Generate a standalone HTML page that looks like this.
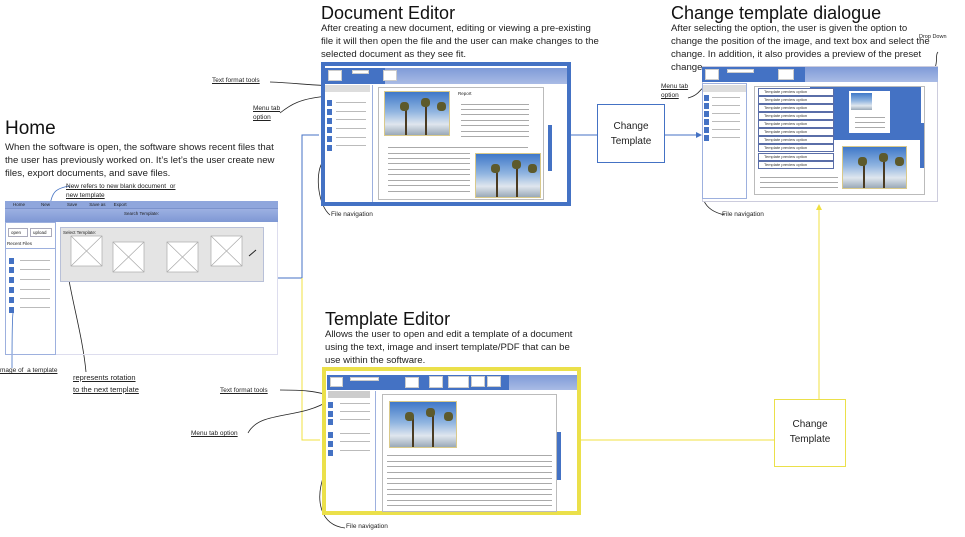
<!DOCTYPE html>
<html><head><meta charset="utf-8"><style>
*{margin:0;padding:0;box-sizing:border-box}
body{width:965px;height:537px;background:#fff;position:relative;overflow:hidden;font-family:"Liberation Sans",sans-serif;color:#222}
.a{position:absolute}
.t{font-size:18px;line-height:20px;color:#111}
.p{font-size:9.6px;line-height:13px;color:#222}
.u{font-size:6.5px;text-decoration:underline;color:#222;line-height:9px}
.photo{position:absolute;background:linear-gradient(#3f78c8,#8fb4e0 45%,#dfe6ee 75%,#9aa9b8);border:1px solid #d9c98a;overflow:hidden}
.photo i{position:absolute;background:#4a3b22;width:2px}
.photo b{position:absolute;background:#5d5a2c;border-radius:40%;width:9px;height:9px}
.ln{position:absolute;height:1px;background:#aaa}
.sq{position:absolute;width:5px;height:6px;background:#4472c4}
.fl{position:absolute;height:1px;background:#bbb;width:30px}
.tb{position:absolute;background:linear-gradient(#7f9bd8,#a9bbe5)}
.wb{position:absolute;background:#fff;border:1px solid #ccc}
.opt{position:absolute;height:8px;border:1px solid #5a6ea8;background:#fff;font-size:4px;line-height:6px;padding-left:5px;color:#333}
</style></head><body>

<svg class="a" style="left:0;top:0" width="965" height="537">
<defs><marker id="ab" markerWidth="6" markerHeight="6" refX="5" refY="3" orient="auto"><path d="M0,0L6,3L0,6z" fill="#4472c4"/></marker>
<marker id="ay" markerWidth="6" markerHeight="6" refX="5" refY="3" orient="auto"><path d="M0,0L6,3L0,6z" fill="#f0e040"/></marker></defs>
<path d="M278,278H302V135H319" fill="none" stroke="#4472c4" stroke-width="1"/>
<path d="M570,135H597" fill="none" stroke="#4472c4" stroke-width="1"/>
<path d="M665,135H701" fill="none" stroke="#4472c4" stroke-width="1" marker-end="url(#ab)"/>
<path d="M302,278V440H320" fill="none" stroke="#f0e040" stroke-width="1"/>
<path d="M580,440H774" fill="none" stroke="#f0e040" stroke-width="1"/>
<path d="M819,399V205" fill="none" stroke="#f0e040" stroke-width="1" marker-end="url(#ay)"/>
<path d="M270,82 C300,83 310,86 345,86" fill="none" stroke="#222" stroke-width="0.8"/>
<path d="M280,113 C290,105 300,98 330,96" fill="none" stroke="#222" stroke-width="0.8"/>
<path d="M330,215 C318,205 315,175 322,163" fill="none" stroke="#222" stroke-width="0.8"/>
<path d="M70,186 C55,188 52,193 50,205" fill="none" stroke="#4472c4" stroke-width="0.8"/>
<path d="M12,368 C12,340 12,320 13,313" fill="none" stroke="#4472c4" stroke-width="0.8"/>
<path d="M86,372 C82,330 68,290 64,245" fill="none" stroke="#222" stroke-width="0.8"/>
<path d="M280,390 C310,390 315,392 330,395" fill="none" stroke="#222" stroke-width="0.8"/>
<path d="M248,433 C260,410 300,420 330,400" fill="none" stroke="#222" stroke-width="0.8"/>
<path d="M345,528 C320,525 315,500 324,475" fill="none" stroke="#222" stroke-width="0.8"/>
<path d="M688,98 C700,95 700,88 705,87" fill="none" stroke="#222" stroke-width="0.8"/>
<path d="M725,215 C700,210 700,190 705,188" fill="none" stroke="#222" stroke-width="0.8"/>
<path d="M770,68 C800,68 900,72 935,68 C938,60 935,55 938,52" fill="none" stroke="#222" stroke-width="0.8"/>
<path d="M250,258 L256,253" stroke="#222" stroke-width="1"/>
</svg>

<div class="a t" style="left:5px;top:119px;font-size:19px">Home</div>
<div class="a p" style="left:5px;top:141px;width:270px">When the software is open, the software shows recent files that the user has previously worked on. It’s let’s the user create new files, export documents, and save files.</div>
<div class="a u" style="left:66px;top:182px">New refers to new blank document&nbsp; or<br>new template</div>
<div class="a" style="left:5px;top:201px;width:273px;height:154px;border:1px solid #dde"></div>
<div class="a" style="left:5px;top:201px;width:273px;height:8px;background:#8fa6dc;font-size:4.5px;line-height:8px;border-bottom:1px solid #7b92cc"><span style="margin-left:8px">Home</span><span style="margin-left:16px">New</span><span style="margin-left:17px">Save</span><span style="margin-left:12px">Save as</span><span style="margin-left:8px">Export</span></div>
<div class="a" style="left:5px;top:209px;width:273px;height:13px;background:linear-gradient(#9cb0e2,#7f98d4);font-size:4.5px;line-height:10px;text-align:center">Search Template:</div>
<div class="a" style="left:5px;top:222px;width:51px;height:133px;border:1px solid #9db0de"></div>
<div class="a" style="left:8px;top:228px;width:20px;height:9px;border:1px solid #aab;font-size:4.5px;line-height:7px;padding-left:2px">open</div>
<div class="a" style="left:30px;top:228px;width:22px;height:9px;border:1px solid #aab;font-size:4.5px;line-height:7px;padding-left:2px">upload</div>
<div class="a" style="left:7px;top:241px;font-size:4.5px">Recent Files</div>
<div class="a" style="left:5px;top:248px;width:51px;height:1px;background:#9db0de"></div>
<div class="sq" style="left:9px;top:258px"></div><div class="sq" style="left:9px;top:267px"></div><div class="sq" style="left:9px;top:277px"></div><div class="sq" style="left:9px;top:287px"></div><div class="sq" style="left:9px;top:297px"></div><div class="sq" style="left:9px;top:307px"></div>
<div class="fl" style="left:20px;top:260px"></div><div class="fl" style="left:20px;top:269px"></div><div class="fl" style="left:20px;top:279px"></div><div class="fl" style="left:20px;top:289px"></div><div class="fl" style="left:20px;top:298px"></div><div class="fl" style="left:20px;top:307px"></div>
<div class="a" style="left:60px;top:227px;width:204px;height:55px;background:#e4e4e4;border:1px solid #b8c0d8"></div>
<div class="a" style="left:63px;top:230px;font-size:4.5px">Select Template:</div>
<svg class="a" style="left:60px;top:227px" width="204" height="55">
<g fill="#fff" stroke="#aaa" stroke-width="0.7">
<rect x="11" y="9" width="31" height="30"/><path d="M11,9L42,39M42,9L11,39"/>
<rect x="53" y="15" width="31" height="30"/><path d="M53,15L84,45M84,15L53,45"/>
<rect x="107" y="15" width="31" height="30"/><path d="M107,15L138,45M138,15L107,45"/>
<rect x="151" y="9" width="31" height="30"/><path d="M151,9L182,39M182,9L151,39"/></g>
<path d="M189,29L196,23" stroke="#222" stroke-width="1"/></svg>
<div class="a u" style="left:0;top:366px;font-size:6.5px">mage of&nbsp; a template</div>
<div class="a u" style="left:73px;top:372px;font-size:7.5px;line-height:12px">represents rotation<br>to the next template</div>

<div class="a t" style="left:321px;top:3px">Document Editor</div>
<div class="a p" style="left:321px;top:22px;width:280px">After creating a new document, editing or viewing a pre-existing file it will then open the file and the user can make changes to the selected document as they see fit.</div>
<div class="a" style="left:321px;top:62px;width:250px;height:144px;border:4px solid #4472c4;background:#fff"></div>
<div class="tb" style="left:325px;top:68px;width:242px;height:16px"></div>
<div class="a" style="left:325px;top:68px;width:60px;height:16px;background:#4472c4"></div>
<div class="wb" style="left:328px;top:70px;width:14px;height:11px"></div>
<div class="wb" style="left:352px;top:70px;width:17px;height:4px"></div>
<div class="wb" style="left:383px;top:70px;width:14px;height:11px"></div>
<div class="a u" style="left:212px;top:76px;font-size:6.5px">Text format tools</div>
<div class="a u" style="left:253px;top:104px;font-size:6.5px">Menu tab<br>option</div>
<div class="a" style="left:325px;top:85px;width:48px;height:117px;border-right:1px solid #9db0de"></div>
<div class="a" style="left:325px;top:85px;width:45px;height:7px;background:#ddd"></div>
<div class="sq" style="left:327px;top:100px"></div><div class="sq" style="left:327px;top:109px"></div><div class="sq" style="left:327px;top:118px"></div><div class="sq" style="left:327px;top:127px"></div><div class="sq" style="left:327px;top:136px"></div><div class="sq" style="left:327px;top:145px"></div>
<div class="fl" style="left:336px;top:102px"></div><div class="fl" style="left:336px;top:111px"></div><div class="fl" style="left:336px;top:119px"></div><div class="fl" style="left:336px;top:128px"></div><div class="fl" style="left:336px;top:137px"></div><div class="fl" style="left:336px;top:145px"></div>
<div class="a" style="left:378px;top:87px;width:166px;height:113px;border:1px solid #bbb"></div>
<div class="photo" style="left:384px;top:91px;width:66px;height:45px"><i style="left:20px;top:15px;height:30px"></i><i style="left:40px;top:10px;height:35px"></i><b style="left:15px;top:10px"></b><b style="left:36px;top:6px"></b><b style="left:52px;top:10px"></b></div>
<div class="a" style="left:458px;top:91px;font-size:4.5px">Report</div>
<div class="ln" style="left:461px;top:104px;width:68px"></div><div class="ln" style="left:461px;top:109px;width:68px"></div><div class="ln" style="left:461px;top:114px;width:68px"></div><div class="ln" style="left:461px;top:120px;width:68px"></div><div class="ln" style="left:461px;top:125px;width:68px"></div><div class="ln" style="left:461px;top:131px;width:68px"></div><div class="ln" style="left:461px;top:136px;width:68px"></div>
<div class="ln" style="left:388px;top:147px;width:140px"></div>
<div class="ln" style="left:388px;top:153px;width:82px"></div><div class="ln" style="left:388px;top:158px;width:82px"></div><div class="ln" style="left:388px;top:163px;width:82px"></div><div class="ln" style="left:388px;top:169px;width:82px"></div><div class="ln" style="left:388px;top:174px;width:82px"></div><div class="ln" style="left:388px;top:180px;width:82px"></div><div class="ln" style="left:388px;top:185px;width:82px"></div><div class="ln" style="left:388px;top:191px;width:82px"></div>
<div class="photo" style="left:475px;top:153px;width:66px;height:45px"><i style="left:20px;top:15px;height:30px"></i><i style="left:40px;top:10px;height:35px"></i><b style="left:15px;top:10px"></b><b style="left:36px;top:6px"></b><b style="left:52px;top:10px"></b></div>
<div class="a" style="left:548px;top:125px;width:4px;height:46px;background:#4472c4"></div>
<div class="a" style="left:331px;top:211px;font-size:6.5px">File navigation</div>

<div class="a" style="left:597px;top:104px;width:68px;height:59px;border:1px solid #4472c4;font-size:10px;line-height:15px;text-align:center;padding-top:14px">Change<br>Template</div>

<div class="a t" style="left:671px;top:3px">Change template dialogue</div>
<div class="a p" style="left:671px;top:22px;width:262px">After selecting the option, the user is given the option to change the position of the image, and text box and select the change. In addition, it also provides a preview of the preset change.</div>
<div class="a" style="left:919px;top:34px;font-size:5.5px">Drop Down</div>
<div class="a u" style="left:661px;top:82px;font-size:6.5px">Menu tab<br>option</div>
<div class="a" style="left:702px;top:66px;width:236px;height:136px;border:1px solid #ccd;background:#fff"></div>
<div class="tb" style="left:702px;top:67px;width:236px;height:15px"></div>
<div class="a" style="left:702px;top:67px;width:103px;height:15px;background:#4472c4"></div>
<div class="wb" style="left:705px;top:69px;width:14px;height:11px"></div>
<div class="wb" style="left:727px;top:69px;width:27px;height:4px"></div>
<div class="wb" style="left:778px;top:69px;width:16px;height:11px"></div>
<div class="a" style="left:702px;top:83px;width:45px;height:116px;border:1px solid #9db0de"></div>
<div class="a" style="left:703px;top:85px;width:43px;height:7px;background:#ddd"></div>
<div class="sq" style="left:704px;top:95px"></div><div class="sq" style="left:704px;top:103px"></div><div class="sq" style="left:704px;top:111px"></div><div class="sq" style="left:704px;top:119px"></div><div class="sq" style="left:704px;top:127px"></div><div class="sq" style="left:704px;top:135px"></div>
<div class="fl" style="left:712px;top:97px;width:28px"></div><div class="fl" style="left:712px;top:105px;width:28px"></div><div class="fl" style="left:712px;top:113px;width:28px"></div><div class="fl" style="left:712px;top:121px;width:28px"></div><div class="fl" style="left:712px;top:129px;width:28px"></div><div class="fl" style="left:712px;top:137px;width:28px"></div>
<div class="a" style="left:754px;top:86px;width:171px;height:109px;border:1px solid #bbb"></div>
<div class="a" style="left:810px;top:87px;width:111px;height:53px;background:#4472c4"></div>
<div class="a" style="left:849px;top:91px;width:41px;height:42px;background:#fff"></div>
<div class="photo" style="left:851px;top:93px;width:21px;height:17px;border:none"></div>
<div class="ln" style="left:855px;top:117px;width:30px"></div><div class="ln" style="left:855px;top:122px;width:30px"></div><div class="ln" style="left:855px;top:127px;width:30px"></div>
<div class="photo" style="left:842px;top:146px;width:65px;height:43px"><i style="left:20px;top:15px;height:28px"></i><i style="left:40px;top:10px;height:33px"></i><b style="left:15px;top:10px"></b><b style="left:36px;top:6px"></b><b style="left:52px;top:10px"></b></div>
<div class="opt" style="left:758px;top:88px;width:76px">Template preview option</div>
<div class="opt" style="left:758px;top:96px;width:76px">Template preview option</div>
<div class="opt" style="left:758px;top:104px;width:76px">Template preview option</div>
<div class="opt" style="left:758px;top:112px;width:76px">Template preview option</div>
<div class="opt" style="left:758px;top:120px;width:76px">Template preview option</div>
<div class="opt" style="left:758px;top:128px;width:76px">Template preview option</div>
<div class="opt" style="left:758px;top:136px;width:76px">Template preview option</div>
<div class="opt" style="left:758px;top:144px;width:76px">Template preview option</div>
<div class="opt" style="left:758px;top:153px;width:76px">Template preview option</div>
<div class="opt" style="left:758px;top:161px;width:76px">Template preview option</div>
<div class="ln" style="left:760px;top:177px;width:78px"></div><div class="ln" style="left:760px;top:182px;width:78px"></div><div class="ln" style="left:760px;top:187px;width:78px"></div>
<div class="a" style="left:920px;top:123px;width:4px;height:45px;background:#4472c4"></div>
<div class="a" style="left:722px;top:211px;font-size:6.5px">File navigation</div>

<div class="a t" style="left:325px;top:309px">Template Editor</div>
<div class="a p" style="left:325px;top:328px;width:260px">Allows the user to open and edit a template of a document using the text, image and insert template/PDF that can be use within the software.</div>
<div class="a" style="left:322px;top:367px;width:259px;height:148px;border:4px solid #ebe04a;background:#fff"></div>
<div class="tb" style="left:327px;top:375px;width:250px;height:15px"></div>
<div class="a" style="left:327px;top:375px;width:182px;height:15px;background:#4472c4"></div>
<div class="wb" style="left:330px;top:377px;width:13px;height:10px"></div>
<div class="wb" style="left:350px;top:377px;width:29px;height:4px"></div>
<div class="wb" style="left:405px;top:377px;width:14px;height:11px"></div>
<div class="wb" style="left:429px;top:376px;width:14px;height:12px"></div>
<div class="wb" style="left:448px;top:376px;width:21px;height:12px"></div>
<div class="wb" style="left:471px;top:376px;width:14px;height:11px"></div>
<div class="wb" style="left:487px;top:376px;width:14px;height:11px"></div>
<div class="a u" style="left:220px;top:386px;font-size:6.5px">Text format tools</div>
<div class="a u" style="left:191px;top:429px;font-size:6.5px">Menu tab option</div>
<div class="a" style="left:327px;top:391px;width:49px;height:120px;border-right:1px solid #9db0de"></div>
<div class="a" style="left:328px;top:391px;width:42px;height:7px;background:#ccc"></div>
<div class="sq" style="left:328px;top:402px"></div><div class="sq" style="left:328px;top:411px"></div><div class="sq" style="left:328px;top:419px"></div><div class="sq" style="left:328px;top:432px"></div><div class="sq" style="left:328px;top:441px"></div><div class="sq" style="left:328px;top:450px"></div>
<div class="fl" style="left:340px;top:403px"></div><div class="fl" style="left:340px;top:411px"></div><div class="fl" style="left:340px;top:419px"></div><div class="fl" style="left:340px;top:433px"></div><div class="fl" style="left:340px;top:441px"></div><div class="fl" style="left:340px;top:450px"></div>
<div class="a" style="left:382px;top:394px;width:175px;height:118px;border:1px solid #bbb"></div>
<div class="photo" style="left:389px;top:401px;width:68px;height:47px"><i style="left:22px;top:15px;height:32px"></i><i style="left:42px;top:10px;height:37px"></i><b style="left:15px;top:10px"></b><b style="left:36px;top:6px"></b><b style="left:54px;top:10px"></b></div>
<div class="ln" style="left:387px;top:455px;width:165px"></div><div class="ln" style="left:387px;top:461px;width:165px"></div><div class="ln" style="left:387px;top:466px;width:165px"></div><div class="ln" style="left:387px;top:472px;width:165px"></div><div class="ln" style="left:387px;top:478px;width:165px"></div><div class="ln" style="left:387px;top:483px;width:165px"></div><div class="ln" style="left:387px;top:489px;width:165px"></div><div class="ln" style="left:387px;top:494px;width:165px"></div><div class="ln" style="left:387px;top:500px;width:165px"></div><div class="ln" style="left:387px;top:505px;width:165px"></div>
<div class="a" style="left:557px;top:432px;width:4px;height:48px;background:#4472c4"></div>
<div class="a" style="left:346px;top:523px;font-size:6.5px">File navigation</div>

<div class="a" style="left:774px;top:399px;width:72px;height:68px;border:1px solid #ebe04a;font-size:10px;line-height:15px;text-align:center;padding-top:17px">Change<br>Template</div>
</body></html>
